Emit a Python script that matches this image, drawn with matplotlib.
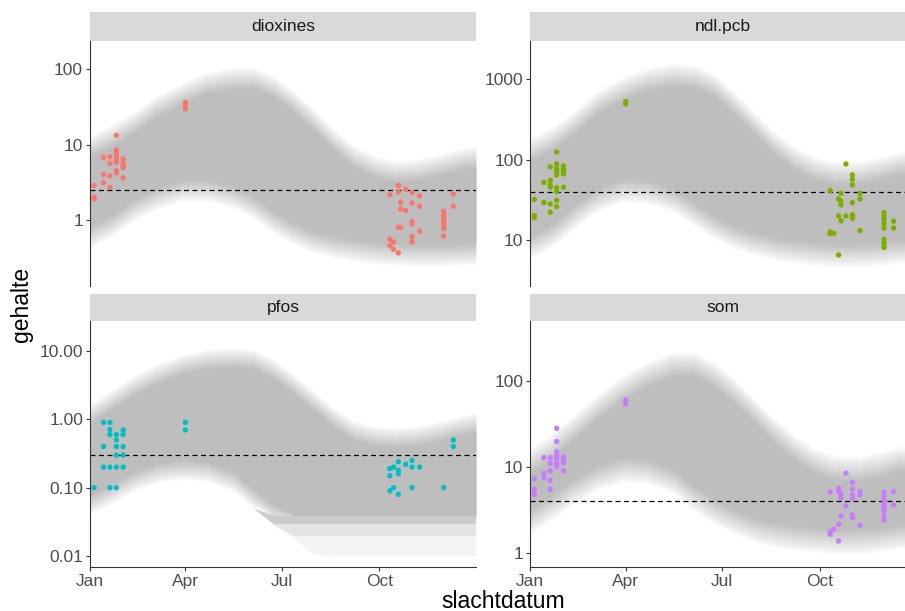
import numpy as np
import matplotlib
matplotlib.use("Agg")
import matplotlib.pyplot as plt
from matplotlib.ticker import FixedLocator, FixedFormatter, NullLocator

plt.rcParams['font.family'] = ['Liberation Sans', 'DejaVu Sans']

# sampling days (day of year)
sample_days = [4.8, 13.8, 19.8, 25.9, 32.3, 91, 284, 287.5, 292, 294.2, 298.9, 305, 312.1, 334.8, 343.9]

# measured values per sampling day
dioxines_values = [
    [2.86, 2.0, 1.9], [6.79, 4.04, 3.13], [6.93, 5.65, 3.84, 2.71],
    [13.3, 8.5, 7.67, 6.93, 6.26, 5.83, 4.52, 4.25], [6.45, 5.65, 5.26, 4.95, 3.61],
    [36.5, 33.0, 29.8], [2.17, 0.554, 0.452], [0.51, 0.408], [2.86, 2.35, 0.80, 0.365],
    [1.72, 1.40, 0.80], [2.55, 1.33], [2.31, 1.68, 0.95, 0.885, 0.60, 0.51],
    [2.10, 1.52, 0.71], [1.30, 1.16, 1.05, 0.95, 0.86, 0.77, 0.61], [2.21, 1.52]]
ndl_values = [
    [32, 20.1, 19.0], [51.8, 29.2], [81.1, 55.3, 48.4, 45.3, 28.1, 22.1],
    [124, 88.3, 78, 71, 64.5, 44.8, 40, 31.2, 26], [83.4, 75.9, 71, 66.4, 45.3],
    [527, 493], [41.1, 12.6, 12.0], [12.1], [32.4, 19.9, 6.5],
    [38.1, 30.6, 27.3, 17.3], [88.3, 19.9], [64.5, 56.9, 48.4, 29.2, 20.5, 18.6],
    [38.1, 32.4, 13.1], [21.9, 19.9, 18.1, 16.1, 14.1, 10.2, 9.1, 8.1], [17.1, 14.1]]
pfos_values = [
    [0.10], [0.90, 0.40, 0.20], [0.90, 0.71, 0.60, 0.20, 0.10],
    [0.60, 0.50, 0.40, 0.30, 0.20, 0.10], [0.70, 0.60, 0.40, 0.30, 0.20],
    [0.90, 0.70], [0.19, 0.15, 0.09], [0.20, 0.10], [0.24, 0.18, 0.16, 0.08],
    [], [0.22], [0.25, 0.20, 0.10], [0.20], [0.10], [0.50, 0.40]]
som_values = [
    [7.26, 5.51, 4.78], [12.8, 8.45, 7.52], [12.8, 11.0, 9.0, 7.01, 5.51],
    [28.0, 19.7, 15.1, 13.5, 12.6, 11.0, 10.1], [12.9, 11.8, 11.2, 9.0],
    [59.7, 53.7], [5.09, 1.78, 1.66], [1.90], [5.66, 5.18, 2.17, 1.39],
    [4.87, 4.34, 2.71], [8.45, 3.53], [6.64, 5.51, 4.70, 4.34, 2.78, 2.59],
    [5.18, 4.78, 2.11], [5.09, 4.53, 4.11, 3.73, 3.41, 3.12, 2.71, 2.43], [5.18, 3.63]]

# prediction band edges per substance
band_days = [1, 20, 42, 64, 89, 111, 136, 155, 174, 193, 212, 231, 250, 269, 288, 310, 332, 350, 365]
dioxines_hi = [9.4, 12.8, 19.2, 32, 48, 65, 76, 76, 59, 37, 21.3, 11.5, 6.9, 5.1, 4.4, 4.6, 5.4, 6.3, 6.9]
dioxines_lo = [0.60, 0.82, 1.36, 1.94, 2.5, 2.5, 2.04, 1.5, 0.95, 0.665, 0.515, 0.443, 0.40, 0.368, 0.353, 0.343, 0.343, 0.353, 0.361]
ndl_hi = [132, 176, 284, 504, 774, 984, 1135, 1082, 851, 504, 284, 160, 104, 78, 67.6, 67.6, 78, 90, 95]
ndl_lo = [8.3, 11.0, 19.5, 31.5, 42, 40, 31.5, 21.5, 14.7, 11.0, 9.1, 7.9, 7.2, 6.8, 6.5, 6.5, 6.8, 7.2, 7.3]
pfos_hi = [1.19, 1.86, 3.08, 4.56, 6.4, 7.6, 8.0, 7.6, 5.4, 3.26, 1.86, 1.06, 0.68, 0.57, 0.54, 0.57, 0.68, 0.80, 0.90]
pfos_lo = [0.057, 0.080, 0.125, 0.166, 0.185, 0.175, 0.125, 0.071, 0.041, 0.026, 0.015, 0.009, 0.006, 0.006, 0.006, 0.006, 0.006, 0.006, 0.006]
som_hi = [11.7, 16.8, 28.6, 48.7, 83, 118, 155, 155, 118, 76, 44.6, 26.1, 16.8, 11.7, 9.8, 9.4, 10.7, 12.3, 12.5]
som_lo = [2.37, 3.38, 5.27, 7.53, 9.4, 9.0, 6.88, 4.41, 3.09, 2.37, 1.90, 1.66, 1.52, 1.45, 1.39, 1.39, 1.45, 1.59, 1.6]

# limits (dashed lines)
norms = {"dioxines": 2.5, "ndl.pcb": 40, "pfos": 0.3, "som": 4}

# pfos lower band is cut off at the detection limits
pfos_floors = [0.04, 0.03, 0.02, 0.01]
pfos_floor_alpha = [0.8, 0.42, 0.16]

month_ticks = [1, 91, 182, 274]
month_labels = ["Jan", "Apr", "Jul", "Oct"]

BAND_GREY = "#BEBEBE"
FADE = 0.3
W, H = 905, 611


def draw_band(ax, lo, hi, floor=None):
    lo = np.asarray(lo, float)
    hi = np.asarray(hi, float)
    n = 32
    for k in range(n):
        t = 0.5 - k / (n - 1)          # outer -> inner, linear opacity ramp
        top = hi * 10 ** (FADE * t)
        bot = lo / 10 ** (FADE * t)
        if floor is not None:
            bot = np.maximum(bot, floor)
        ax.fill_between(band_days, bot, top, color=BAND_GREY, alpha=1.0 / (n - k), lw=0)


panels = [
    ("dioxines", dioxines_values, dioxines_lo, dioxines_hi, "#F8766D",
     (10 ** -0.877, 10 ** 2.38), [1, 10, 100], ["1", "10", "100"], (90, 40.7, 286)),
    ("ndl.pcb", ndl_values, ndl_lo, ndl_hi, "#7CAE00",
     (10 ** 0.427, 10 ** 3.48), [10, 100, 1000], ["10", "100", "1000"], (530.3, 40.7, 286)),
    ("pfos", pfos_values, pfos_lo, pfos_hi, "#00BFC4",
     (10 ** -2.165, 10 ** 1.44), [0.01, 0.1, 1, 10], ["0.01", "0.10", "1.00", "10.00"], (90, 321, 567.3)),
    ("som", som_values, som_lo, som_hi, "#C77CFF",
     (10 ** -0.162, 10 ** 2.69), [1, 10, 100], ["1", "10", "100"], (530.3, 321, 567.3)),
]

fig = plt.figure(figsize=(W / 100, H / 100), dpi=100)
panel_w = 386

for name, values, lo, hi, color, ylim, yt, ytl, (x0, top, bottom) in panels:
    ax = fig.add_axes([x0 / W, 1 - bottom / H, panel_w / W, (bottom - top) / H])
    ax.set_yscale("log")

    if name == "pfos":
        draw_band(ax, lo, hi, floor=pfos_floors[0])
        lo_out = np.asarray(lo, float) / 10 ** (FADE / 2)
        for f_hi, f_lo, a in zip(pfos_floors[:-1], pfos_floors[1:], pfos_floor_alpha):
            ax.fill_between(band_days, np.maximum(lo_out, f_lo), np.maximum(lo_out, f_hi),
                            color=BAND_GREY, alpha=a, lw=0)
    else:
        draw_band(ax, lo, hi)

    ax.axhline(norms[name], color="black", lw=0.9, ls=(0, (4, 2.8)), zorder=2)

    xs = [d for d, vals in zip(sample_days, values) for _ in vals]
    ys = [v for vals in values for v in vals]
    ax.scatter(xs, ys, s=15, color=color, edgecolors="none", zorder=3)

    ax.set_xlim(1, 365.3)
    ax.set_ylim(*ylim)
    ax.yaxis.set_major_locator(FixedLocator(yt))
    ax.yaxis.set_major_formatter(FixedFormatter(ytl))
    ax.yaxis.set_minor_locator(NullLocator())
    ax.set_xticks(month_ticks, month_labels)

    for s in ["top", "right"]:
        ax.spines[s].set_visible(False)
    ax.spines["left"].set_color("#333333")
    ax.spines["left"].set_linewidth(0.8)
    ax.tick_params(axis="both", direction="out", length=3, width=0.8, color="#333333",
                   labelsize=12.5, labelcolor="#4D4D4D", pad=2)
    if top < 100:
        ax.spines["bottom"].set_visible(False)
        ax.tick_params(axis="x", bottom=False, labelbottom=False)
    else:
        ax.spines["bottom"].set_color("#333333")
        ax.spines["bottom"].set_linewidth(0.8)

    # facet strip
    strip_top = 12.3 if top < 100 else 294
    sax = fig.add_axes([x0 / W, 1 - top / H, panel_w / W, (top - strip_top) / H])
    sax.set_facecolor("#D9D9D9")
    sax.set_xticks([])
    sax.set_yticks([])
    for s in sax.spines.values():
        s.set_visible(False)
    sax.text(0.5, 0.5, name, ha="center", va="center", fontsize=12.5, color="#1A1A1A",
             transform=sax.transAxes)

fig.text(503 / W, 1 - 601 / H, "slachtdatum", ha="center", va="center", fontsize=16.5)
fig.text(22 / W, 1 - 304 / H, "gehalte", ha="center", va="center", rotation=90, fontsize=16.5)

fig.savefig("out.png", dpi=100)
plt.close(fig)
